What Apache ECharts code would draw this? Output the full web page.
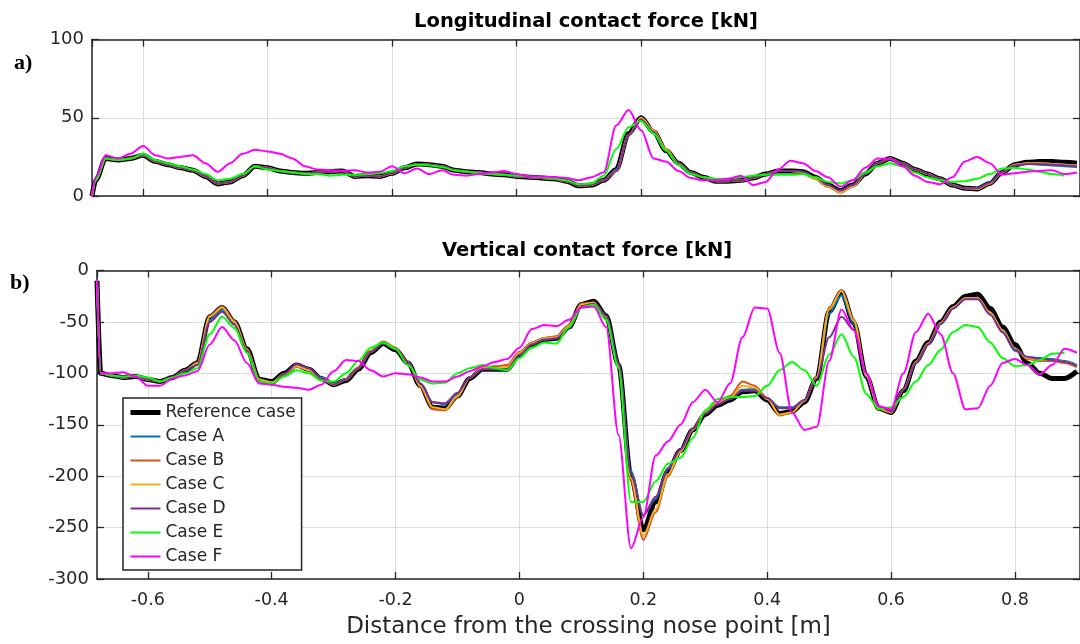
<!DOCTYPE html>
<html><head><meta charset="utf-8">
<script src="https://cdn.jsdelivr.net/npm/echarts@6/dist/echarts.min.js"></script>
<style>html,body{margin:0;padding:0;background:#fff}#c{width:1080px;height:644px}</style>
</head><body><div id="c"></div>
<script>
// shared distance samples [m]
const X = [-0.682,-0.676,-0.66,-0.64,-0.62,-0.60,-0.58,-0.56,-0.54,-0.52,
-0.50,-0.48,-0.46,-0.44,-0.42,-0.40,-0.38,-0.36,-0.34,-0.32,
-0.30,-0.28,-0.26,-0.24,-0.22,-0.20,-0.18,-0.16,-0.14,-0.12,
-0.10,-0.08,-0.06,-0.04,-0.02,0.00,0.02,0.04,0.06,0.08,
0.10,0.12,0.14,0.16,0.18,0.20,0.22,0.24,0.26,0.28,
0.30,0.32,0.34,0.36,0.38,0.40,0.42,0.44,0.46,0.48,
0.50,0.52,0.54,0.56,0.58,0.60,0.62,0.64,0.66,0.68,
0.70,0.72,0.74,0.76,0.78,0.80,0.82,0.84,0.86,0.88,
0.90];

const NAMES = ['Reference case','Case A','Case B','Case C','Case D','Case E','Case F'];
const COLORS = ['#000000','#0072BD','#D95319','#EDB120','#7E2F8E','#00FF00','#FF00FF'];

// a) Longitudinal contact force [kN]
const LONG_REF = [0,10,24,23,24,26,22,20,18,16.5,
12.5,7.7,9,13,19,18,16,15,14.5,15,
15.5,16,12.5,13,12.5,14.5,18,20.5,20,19,
16.5,15.5,15,14,13.5,12.5,12,11.5,11,9.5,
6.5,7,10,17,40,50,41,29,21,15,
12,9.5,9.5,10,11.5,14,16,16,15.5,12,
7,3.5,7,14,21,24,21,17,14,11,
7,5,4.5,8,15,20,21.5,22,22,21.5,
21];
const LONG_A = [0,10,24,23,24,26,22,20,18,16.5,
12.5,8,9,13,19,18,16,15,14.5,15,
15.5,16,12.5,13,12.5,14.5,18,20.5,20,19,
16.5,15.5,15,14,13.5,12.5,12,11.5,11,9.5,
6.5,7,10,17,39,49,41,29,21,15,
12,9.5,9.5,10,11.5,14,16,16,15.5,12,
7,3,7,14,21,24,21,17,14,11,
7,5,5,8.5,15,19.5,20.5,20,19.5,19,
18.5];
const LONG_B = [0,10,24,23,24,26,22,20,18,16.5,
12.5,8,9,13,19,18,16,15,14.5,15,
15.5,16,12.5,13,12.5,14.5,18,20.5,20,19,
16.5,15.5,15,14,13.5,12.5,12,11.5,11,9.5,
6.5,7,10,16,39,50,42,30,21,15,
12,9.5,9.5,10,11.5,14,16,16,15,11,
6,2,6,14,21,24,21,17,14,11,
7,5,4.5,8,15,20,21,21,20.5,20,
19.5];
const LONG_C = [0,10,24,23,24,26,22,20,18,16.5,
12.5,8,9,13,19,18,16,15,14.5,15,
15.5,16,12.5,13,12.5,14.5,18,20.5,20,19,
16.5,15.5,15,14,13.5,12.5,12,11.5,11,9.5,
6.5,7,10,16,39,50,42,30,21,15,
12,9.5,9.5,10,11.5,14,16,16,15,11,
6,2.5,6,14,21,24,21,17,14,11,
7,5,4.5,8,15,20,21,21,20.5,20,
19.5];
const LONG_D = [0,10,24,23,24,26,22,20,18,16.5,
12.5,8,9,13,19,18,16,15,14.5,15,
15.5,16,12.5,13,12.5,14.5,18,20.5,20,19,
16.5,15.5,15,14,13.5,12.5,12,11.5,11,9.5,
6.5,7,10,16,39,49,41,29,21,15,
12,9.5,9.5,10,11.5,14,16,16,15.5,12,
7,3.5,7,14,21,24,21,17,14,11,
7,5,5,8.5,15,19.5,20.5,20.5,20,19.5,
19];
const LONG_E = [0,10,24,23,24,27,23,21,19,17,
14,10,11,14,19,17,16,15,14,14,
13,13.5,13.5,14,14.5,16,19,20,19.5,18.5,
16.5,15.5,14.5,14,13.5,13,12.5,12,11,10,
7.5,8,13,30,44,48,40,29,20,14,
12,11,11,12,13,13.5,13.5,13.5,14,12,
9,8,10,15,19,21,19,15,12,10,
9,9.5,11,14,17.5,18,17,15.5,14,13,
null];
const LONG_F = [0,12,26,24,27,32,26,24,25,26,
21,15.5,21,27,29.5,28.5,27,24,19,17,
16.5,16,16.5,15,15.5,19,14.5,17.5,14,16.5,
13.5,13,14,15,16,14,12.5,12.5,12,11.5,
10,12,15,45,55,42,24,22,16,11.5,
10,10,11,13,7,9,17,22.5,21,16,
12,6,10,18,24,23.5,19,13,9,7.5,
12,22,25,21,13.5,14.5,15.5,16,16.5,14,
15];

// b) Vertical contact force [kN]
const VERT_REF = [-10,-100,-102,-104,-103,-106,-108,-104,-97,-90,
-45,-36,-50,-76,-106,-108,-100,-92,-96,-105,
-111,-107,-96,-80,-71,-77,-90,-112,-133,-134,
-122,-105,-96,-96,-96,-82,-72,-67,-66,-55,
-33,-30,-44,-92,-200,-252,-225,-195,-175,-155,
-140,-131,-126,-118,-117,-126,-139,-137,-128,-105,
-40,-21,-51,-103,-134,-138,-117,-88,-70,-50,
-35,-25,-23,-37,-55,-72,-90,-100,-105,-105,
-98];
const VERT_A = [-10,-100,-102,-104,-103,-106,-108,-104,-97,-91,
-48,-38,-52,-78,-107,-110,-101,-93,-96,-104,
-110,-106,-95,-79,-71,-76,-89,-110,-128,-130,
-120,-104,-96,-96,-96,-82,-72,-67,-66,-56,
-35,-32,-44,-90,-195,-238,-222,-193,-174,-154,
-139,-130,-125,-116,-116,-124,-133,-133,-126,-104,
-42,-24,-52,-103,-133,-137,-116,-90,-72,-52,
-36,-27,-27,-42,-60,-78,-84,-85,-86,-88,
-92];
const VERT_B = [-10,-100,-102,-104,-103,-106,-108,-104,-97,-90,
-44,-35,-49,-76,-106,-109,-101,-93,-97,-106,
-111,-106,-94,-78,-69,-75,-89,-113,-135,-136,
-123,-104,-94,-93,-92,-79,-70,-66,-64,-53,
-32,-31,-45,-95,-205,-262,-235,-200,-176,-154,
-137,-128,-122,-108,-112,-124,-141,-138,-127,-103,
-36,-19,-48,-102,-135,-138,-116,-89,-71,-51,
-36,-27,-27,-41,-58,-76,-86,-88,-88,-90,
-94];
const VERT_C = [-10,-100,-102,-104,-103,-106,-108,-104,-97,-90,
-45,-36,-50,-77,-106,-109,-101,-93,-97,-105,
-111,-106,-95,-79,-70,-76,-89,-112,-133,-135,
-122,-104,-95,-95,-94,-80,-71,-66,-65,-54,
-33,-31,-45,-93,-202,-258,-232,-198,-176,-155,
-138,-129,-124,-112,-114,-125,-140,-138,-127,-104,
-38,-20,-49,-102,-134,-138,-116,-89,-71,-51,
-36,-27,-27,-41,-58,-76,-85,-87,-87,-89,
-93];
const VERT_D = [-10,-100,-102,-104,-103,-106,-108,-104,-97,-92,
-50,-40,-53,-78,-108,-111,-101,-91,-95,-105,
-111,-106,-95,-79,-71,-76,-89,-110,-128,-129,
-119,-104,-96,-96,-96,-82,-72,-67,-66,-56,
-35,-32,-44,-90,-198,-238,-220,-192,-174,-154,
-139,-130,-125,-117,-117,-124,-134,-134,-126,-105,
-65,-45,-58,-100,-132,-137,-116,-90,-72,-52,
-37,-28,-28,-43,-60,-77,-84,-86,-87,-89,
-93];
const VERT_E = [-10,-100,-102,-103,-102,-104,-108,-104,-100,-95,
-62,-45,-56,-80,-108,-110,-103,-97,-100,-107,
-108,-100,-88,-75,-70,-76,-92,-106,-110,-109,
-100,-95,-92,-95,-97,-85,-75,-70,-71,-55,
-36,-33,-48,-95,-225,-225,-205,-188,-182,-163,
-136,-125,-123,-123,-122,-112,-97,-89,-97,-112,
-82,-62,-84,-120,-135,-133,-123,-108,-92,-77,
-60,-53,-55,-70,-85,-93,-92,-87,-81,-80,
null];
const VERT_F = [-10,-100,-100,-99,-103,-112,-112,-105,-102,-98,
-72,-55,-68,-90,-110,-111,-113,-114,-116,-111,
-98,-87,-88,-97,-103,-100,-101,-104,-108,-108,
-103,-98,-93,-89,-86,-75,-57,-53,-54,-48,
-36,-35,-55,-160,-270,-240,-180,-166,-150,-128,
-116,-128,-110,-65,-36,-37,-80,-138,-155,-152,
-88,-38,-58,-100,-132,-135,-100,-60,-42,-62,
-100,-135,-134,-112,-90,-86,-92,-101,-92,-76,
-80];

const LONG_SETS = [LONG_REF, LONG_A, LONG_B, LONG_C, LONG_D, LONG_E, LONG_F];
const VERT_SETS = [VERT_REF, VERT_A, VERT_B, VERT_C, VERT_D, VERT_E, VERT_F];

const FONT = "'DejaVu Sans', sans-serif";
const AX = '#262626';
const X_MIN = -0.682, X_MAX = 0.905;

function xAx(grid, pos, labels) {
  return {
    type: 'value', gridIndex: grid, position: pos, min: X_MIN, max: X_MAX, splitNumber: 8,
    axisLine: { show: true, onZero: false, lineStyle: { color: AX, width: 1.5 } },
    axisTick: { show: true, inside: true, length: 7, lineStyle: { color: AX, width: 1.3 } },
    axisLabel: { show: labels, showMinLabel: false, showMaxLabel: false, color: AX,
                 fontFamily: FONT, fontSize: 17.5, margin: 12 },
    splitLine: { show: pos === 'bottom', lineStyle: { color: '#dcdcdc', width: 1 } },
    name: (labels ? 'Distance from the crossing nose point [m]' : ''),
    nameLocation: 'middle', nameGap: 37,
    nameTextStyle: { color: AX, fontFamily: FONT, fontSize: 23 }
  };
}
function yAx(grid, pos, min, max) {
  return {
    type: 'value', gridIndex: grid, position: pos, min: min, max: max, interval: 50,
    axisLine: { show: true, onZero: false, lineStyle: { color: AX, width: 1.5 } },
    axisTick: { show: true, inside: true, length: 7, lineStyle: { color: AX, width: 1.3 } },
    axisLabel: { show: pos === 'left', color: AX, fontFamily: FONT, fontSize: 18, margin: 8 },
    splitLine: { show: pos === 'left', lineStyle: { color: '#dcdcdc', width: 1 } }
  };
}

const series = [];
[LONG_SETS, VERT_SETS].forEach((sets, g) => {
  sets.forEach((arr, i) => {
    series.push({
      name: NAMES[i], type: 'line', xAxisIndex: g * 2, yAxisIndex: g * 2,
      data: X.map((x, k) => [x, arr[k]]),
      showSymbol: false, symbol: 'none', smooth: 0.3, smoothMonotone: 'x',
      connectNulls: false, animation: false, clip: true,
      lineStyle: { color: COLORS[i], width: i === 0 ? 5 : 2 },
      itemStyle: { color: COLORS[i] },
      z: 2 + i
    });
  });
});

const chart = echarts.init(document.getElementById('c'), null, { renderer: 'canvas' });
chart.setOption({
  backgroundColor: '#ffffff',
  animation: false,
  grid: [
    { left: 92, top: 39.5, right: 0, height: 156.5 },
    { left: 97, top: 270.5, right: 0, height: 308.5 }
  ],
  xAxis: [xAx(0, 'bottom', false), xAx(0, 'top', false), xAx(1, 'bottom', true), xAx(1, 'top', false)],
  yAxis: [yAx(0, 'left', 0, 100), yAx(0, 'right', 0, 100), yAx(1, 'left', -300, 0), yAx(1, 'right', -300, 0)],
  legend: {
    data: NAMES, orient: 'vertical', left: 123, top: 398,
    itemWidth: 30, itemHeight: 14, itemGap: 7,
    padding: [6, 6, 5, 5],
    backgroundColor: '#ffffff', borderColor: AX, borderWidth: 1.5, borderRadius: 0,
    lineStyle: { width: 'inherit' },
    itemStyle: { opacity: 0, borderWidth: 0 },
    textStyle: { color: AX, fontFamily: FONT, fontSize: 17 },
    selectedMode: false
  },
  graphic: [
    { type: 'text', x: 586, y: 22, z: 100,
      style: { text: 'Longitudinal contact force [kN]', font: "bold 19.5px 'DejaVu Sans'", fill: '#000',
               align: 'center', verticalAlign: 'middle', textAlign: 'center', textVerticalAlign: 'middle' } },
    { type: 'text', x: 587, y: 251, z: 100,
      style: { text: 'Vertical contact force [kN]', font: "bold 19.5px 'DejaVu Sans'", fill: '#000',
               align: 'center', verticalAlign: 'middle', textAlign: 'center', textVerticalAlign: 'middle' } },
    { type: 'text', x: 14, y: 63, z: 100,
      style: { text: 'a)', font: "bold 22px 'Liberation Serif'", fill: '#000',
               align: 'left', verticalAlign: 'middle', textAlign: 'left', textVerticalAlign: 'middle' } },
    { type: 'text', x: 10, y: 283, z: 100,
      style: { text: 'b)', font: "bold 22px 'Liberation Serif'", fill: '#000',
               align: 'left', verticalAlign: 'middle', textAlign: 'left', textVerticalAlign: 'middle' } }
  ],
  series: series
});
</script>
</body></html>
